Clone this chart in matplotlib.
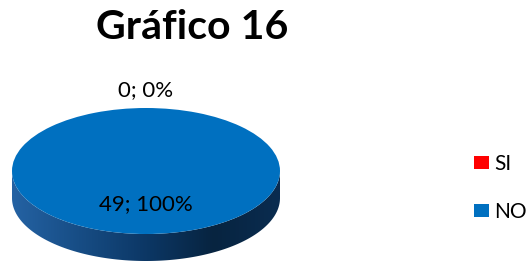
import numpy as np
import matplotlib
matplotlib.use("Agg")
import matplotlib.pyplot as plt
from matplotlib.patches import Polygon
from matplotlib.colors import LinearSegmentedColormap

plt.rcParams['font.family'] = ['Lato', 'DejaVu Sans']

categories = ["SI", "NO"]
values = [0, 49]
colors = ["#FF0000", "#0070C0"]
title = "Gráfico 16"

W, H = 531, 263
fig = plt.figure(figsize=(W / 100, H / 100), dpi=100)

# pie area in pixels
cx, cy, rx, ry, depth = 146, 171, 134, 63, 27
d = depth / ry
ax = fig.add_axes([(cx - rx) / W, 1 - (cy + ry + depth) / H, 2 * rx / W, (2 * ry + depth) / H])

total = sum(values)
wedges, _ = ax.pie(values, colors=colors, startangle=90, counterclock=False,
                   radius=1, wedgeprops=dict(linewidth=0))
ax.set_aspect('auto')
ax.axis('off')

# side walls, driven by slice angles
cmap = LinearSegmentedColormap.from_list(
    "side", ["#2462a3", "#174d85", "#0c3765", "#072440", "#0a2c50"])
ang = 90.0
for v in values:
    span = 360.0 * v / total
    a1, a2 = ang - span, ang
    ang = a1
    lo, hi = max(a1, -180), min(a2, 0)
    if hi <= lo:
        lo, hi = max(a1 + 360, 180) - 360, min(a2 + 360, 360) - 360
        if hi <= lo:
            continue
    t = np.radians(np.linspace(lo, hi, 200))
    xs = np.cos(t)
    ys = np.sin(t)
    pts = np.concatenate([np.column_stack([xs, ys]),
                          np.column_stack([xs[::-1], ys[::-1] - d])])
    poly = Polygon(pts, closed=True, facecolor='none', edgecolor='none')
    ax.add_patch(poly)
    grad = np.linspace(0, 1, 256).reshape(1, -1)
    im = ax.imshow(grad, cmap=cmap, extent=[-1, 1, -1 - d, 0.2],
                   aspect='auto', zorder=0.5)
    im.set_clip_path(poly)
for w in wedges:
    w.set_zorder(2)
ax.set_xlim(-1, 1)
ax.set_ylim(-1 - d, 1)

# data labels
ang = 90.0
for v, w in zip(values, wedges):
    span = 360.0 * v / total
    mid = np.radians(ang - span / 2)
    ang -= span
    pct = 100.0 * v / total
    lab = f"{v}; {pct:.0f}%"
    r = 1.29 if span < 1 else 0.53
    ax.text(r * np.cos(mid), r * np.sin(mid), lab, ha='center', va='center',
            fontsize=16, color='black', zorder=5, clip_on=False)

fig.text(192.5 / W, 1 - 39 / H, title, ha='center', va='baseline',
         fontsize=29.5, fontweight='bold')

leg = fig.legend(wedges, categories, loc='center left',
                 bbox_to_anchor=(474 / W, 1 - 188 / H), frameon=False,
                 fontsize=15, handlelength=0.7, handleheight=0.62,
                 handletextpad=0.25, labelspacing=1.35, borderaxespad=0,
                 borderpad=0)

fig.savefig("out.png", dpi=100)
